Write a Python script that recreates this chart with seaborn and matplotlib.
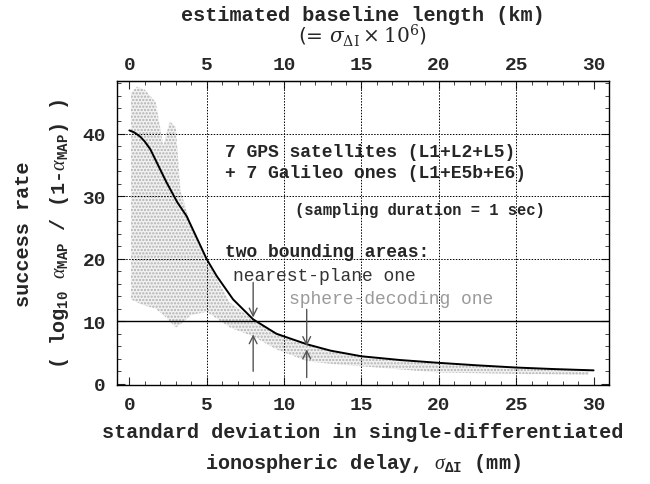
import matplotlib
matplotlib.use("Agg")
import matplotlib.pyplot as plt
import seaborn as sns
import pandas as pd
from matplotlib.ticker import MultipleLocator

# ---- data ----
curve_x = [0, 0.3, 0.7, 1.0, 1.35, 2.4, 3.1, 3.7, 5.0, 5.65, 6.7, 8.0, 9.5, 11.5, 13, 15, 17.5, 20, 22.5, 25, 27.5, 30]
curve_y = [40.5, 40.2, 39.5, 38.7, 37.5, 32.2, 29.0, 26.8, 19.9, 17.2, 13.5, 10.3, 8.0, 6.3, 5.3, 4.4, 3.8, 3.35, 2.95, 2.6, 2.35, 2.15]

area_x = [0.1, 0.5, 1.0, 1.7, 2.2, 2.6, 3.0, 3.3, 4.0, 5.0, 5.6, 6.5, 8.0, 9.5, 11.5, 13.0, 15.0, 17.5, 20.0, 22.5, 25.0, 27.5, 29.7]
area_hi = [46.5, 47.5, 47.0, 45.0, 38.0, 42.0, 41.0, 31.0, 25.0, 19.5, 17.0, 13.0, 10.2, 8.2, 6.2, 5.3, 4.4, 3.7, 3.2, 2.9, 2.6, 2.45, 2.3]
area_lo = [13.5, 13.0, 12.5, 12.0, 11.0, 10.0, 9.0, 9.5, 11.0, 11.5, 10.5, 9.0, 7.6, 5.5, 3.6, 3.2, 2.8, 2.3, 1.8, 1.7, 1.6, 1.5, 1.4]

x_ticks = [0, 5, 10, 15, 20, 25, 30]
y_ticks = [0, 10, 20, 30, 40]

arrow_x = [8.0, 8.0, 11.46, 11.46]
arrow_from = [16.2, 2.0, 11.9, 1.0]
arrow_to = [10.6, 7.9, 6.05, 5.5]

sns.set_style("white")
plt.rcParams['font.family'] = ['Liberation Mono', 'DejaVu Sans']
plt.rcParams['mathtext.fontset'] = 'custom'
plt.rcParams['mathtext.rm'] = 'Liberation Mono:bold'
plt.rcParams['mathtext.bf'] = 'Liberation Mono:bold'
plt.rcParams['mathtext.it'] = 'Liberation Serif:italic'
plt.rcParams['hatch.linewidth'] = 1.1

fig = plt.figure(figsize=(6.5, 4.85), dpi=100)
ax = fig.add_axes([0.18, 0.204, 0.757, 0.627])

# stippled bounding area
ax.fill_between(area_x, area_lo, area_hi, facecolor='#f2f2f2', edgecolor='#b0b0b0',
                hatch='.....', linewidth=0, zorder=1)

df = pd.DataFrame({'x': curve_x, 'y': curve_y})
sns.lineplot(data=df, x='x', y='y', ax=ax, color='black', linewidth=1.4, zorder=4)

ax.set_xlim(-0.8, 31)
ax.set_ylim(-0.2, 48.4)

# grid
for gx in [5, 10, 15, 20, 25]:
    ax.axvline(gx, color='black', linestyle=(0, (1.5, 1.5)), linewidth=0.7, zorder=2)
for gy in [20, 30, 40]:
    ax.axhline(gy, color='black', linestyle=(0, (1.5, 1.5)), linewidth=0.7, zorder=2)
ax.axhline(10, color='black', linestyle='-', linewidth=1.0, zorder=2)

# arrows
for xa, y0, y1 in zip(arrow_x, arrow_from, arrow_to):
    ax.annotate('', xy=(xa, y1), xytext=(xa, y0),
                arrowprops=dict(arrowstyle='->', color='#555555', lw=1.0,
                                mutation_scale=14, shrinkA=0, shrinkB=0), zorder=5)

ax.set_xticks(x_ticks)
ax.set_yticks(y_ticks)
ax.xaxis.set_minor_locator(MultipleLocator(1))
ax.yaxis.set_minor_locator(MultipleLocator(2))
ax.tick_params(which='both', direction='in', top=True, right=True, bottom=True, left=True)
ax.tick_params(which='major', length=6, width=0.8, labelsize=14, pad=8)
ax.tick_params(which='minor', length=3, width=0.6)
ax.set_xticklabels([str(v) for v in x_ticks], fontweight='bold')
ax.set_yticklabels([str(v) for v in y_ticks], fontweight='bold')
for s in ax.spines.values():
    s.set_color('black')
    s.set_linewidth(1.0)

ax.set_xlabel('standard deviation in single-differentiated\n'
              r'ionospheric delay, $\sigma_{\Delta\mathrm{I}}$ (mm)',
              fontsize=14.5, fontweight='bold', linespacing=1.6, labelpad=6)
ax.set_ylabel('success rate\n'
              r'( log$_{10}$ $\alpha_{\mathrm{MAP}}$ / (1-$\alpha_{\mathrm{MAP}}$) )',
              fontsize=14.5, fontweight='bold', linespacing=1.9, labelpad=8)

# top axis
top = ax.secondary_xaxis('top')
top.set_xticks(x_ticks)
top.set_xticklabels([str(v) for v in x_ticks], fontweight='bold')
top.tick_params(direction='in', length=0, labelsize=14, pad=6)

fig.text(0.558, 0.969, 'estimated baseline length (km)', fontsize=14.5,
         fontweight='bold', ha='center', va='center')
fig.text(0.558, 0.926, r'(= $\sigma_{\Delta\mathrm{I}}\times10^6$)', fontsize=14.5,
         family='DejaVu Sans', math_fontfamily='dejavuserif', ha='center', va='center')

# annotations
tk = dict(fontweight='bold', fontsize=13, va='center', ha='left', zorder=6)
ax.text(6.2, 37.2, '7 GPS satellites (L1+L2+L5)', **tk)
ax.text(6.2, 33.8, '+ 7 Galileo ones (L1+E5b+E6)', **tk)
ax.text(10.7, 27.9, '(sampling duration = 1 sec)', fontweight='bold', fontsize=11.2,
        va='center', ha='left', zorder=6)
ax.text(6.2, 21.2, 'two bounding areas:', **tk)
ax.text(6.7, 17.25, 'nearest-plane one', fontsize=13, color='#333333',
        va='center', ha='left', zorder=6)
ax.text(10.3, 13.6, 'sphere-decoding one', fontsize=13, color='#9a9a9a',
        va='center', ha='left', zorder=6)

fig.savefig('out.png', dpi=100)
